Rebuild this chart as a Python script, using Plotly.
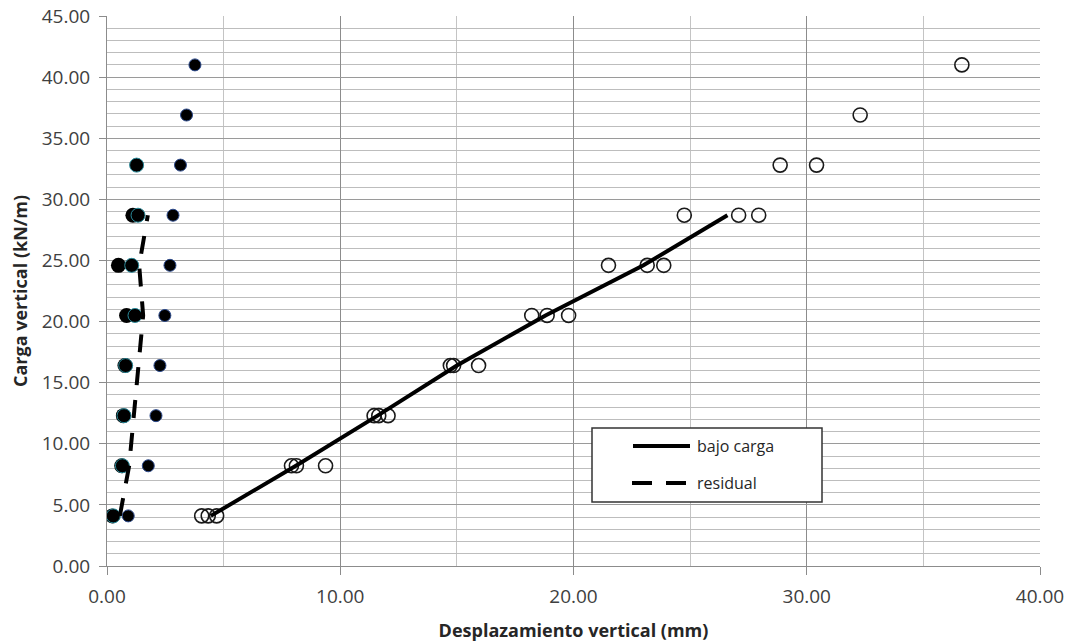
import plotly.graph_objects as go

# Load levels (kN/m)
cargas = [4.1, 8.2, 12.3, 16.4, 20.5, 24.6, 28.7, 32.8, 36.9, 41.0]

# Mean curves
linea_carga_x = [4.45, 8.1, 11.6, 15.0, 18.8, 23.0, 26.6]
linea_carga_y = cargas[:7]
linea_res_x = [0.55, 0.95, 1.15, 1.35, 1.55, 1.38, 1.75]
linea_res_y = cargas[:7]

# Displacement under load (open circles), three tests
abierto_a_x = [4.06, 7.91, 11.45, 14.72, 18.21, 23.16, 27.08, 30.42]
abierto_a_y = cargas[:8]
abierto_b_x = [4.34, 8.12, 11.65, 14.86, 18.87, 23.87, 27.94]
abierto_b_y = cargas[:7]
abierto_c_x = [4.70, 9.37, 12.05, 15.93, 19.79, 21.50, 24.75, 28.86, 32.29, 36.65]
abierto_c_y = cargas[:10]

# Residual displacement (filled dots), three tests
relleno_a_x = [0.22, 0.63, 0.70, 0.77, 0.84, 0.49, 1.11]
relleno_a_y = cargas[:7]
relleno_b_x = [0.27, 0.66, 0.73, 0.80, 1.20, 1.06, 1.33, 1.27]
relleno_b_y = cargas[:8]
relleno_c_x = [0.91, 1.77, 2.10, 2.27, 2.48, 2.70, 2.83, 3.15, 3.41, 3.77]
relleno_c_y = cargas[:10]

x_ticks = [0, 10, 20, 30, 40]
y_ticks = [0, 5, 10, 15, 20, 25, 30, 35, 40, 45]

FONT = "Open Sans"

fig = go.Figure()

for xs, ys in [(abierto_a_x, abierto_a_y), (abierto_b_x, abierto_b_y), (abierto_c_x, abierto_c_y)]:
    fig.add_trace(go.Scatter(x=xs, y=ys, mode="markers", showlegend=False,
                             marker=dict(symbol="circle-open", size=14, color="#1a1a1a",
                                         line=dict(width=1.6, color="#1a1a1a"))))

fig.add_trace(go.Scatter(x=relleno_a_x, y=relleno_a_y, mode="markers", showlegend=False,
                         marker=dict(symbol="circle", size=15, color="black",
                                     line=dict(width=0))))
fig.add_trace(go.Scatter(x=relleno_b_x, y=relleno_b_y, mode="markers", showlegend=False,
                         marker=dict(symbol="circle", size=14, color="black",
                                     line=dict(width=1, color="#2a8a9a"))))
fig.add_trace(go.Scatter(x=relleno_c_x, y=relleno_c_y, mode="markers", showlegend=False,
                         marker=dict(symbol="circle", size=12, color="black",
                                     line=dict(width=1, color="#2c4a8c"))))

fig.add_trace(go.Scatter(x=linea_carga_x, y=linea_carga_y, mode="lines", name="bajo carga",
                         showlegend=False, line=dict(color="black", width=4)))
fig.add_trace(go.Scatter(x=linea_res_x, y=linea_res_y, mode="lines", name="residual",
                         showlegend=False, line=dict(color="black", width=4, dash="18px,15px")))

# Legend box (drawn in paper coordinates)
L, R, T, B = 107, 1040, 16, 566
W, H = R - L, B - T
def px(v):
    return (v - L) / W
def py(v):
    return (B - v) / H

fig.add_shape(type="rect", xref="paper", yref="paper",
              x0=px(592), x1=px(822), y0=py(502), y1=py(428),
              line=dict(color="#333333", width=1.5), fillcolor="white", layer="above")
fig.add_shape(type="line", xref="paper", yref="paper",
              x0=px(633), x1=px(690), y0=py(446), y1=py(446),
              line=dict(color="black", width=4), layer="above")
fig.add_shape(type="line", xref="paper", yref="paper",
              x0=px(632), x1=px(687), y0=py(483), y1=py(483),
              line=dict(color="black", width=4, dash="20px,14px"), layer="above")
fig.add_annotation(xref="paper", yref="paper", x=px(695), y=py(446), text="bajo carga",
                   showarrow=False, xanchor="left", yanchor="middle",
                   font=dict(family=FONT, size=16, color="#262626"))
fig.add_annotation(xref="paper", yref="paper", x=px(695), y=py(483), text="residual",
                   showarrow=False, xanchor="left", yanchor="middle",
                   font=dict(family=FONT, size=16, color="#262626"))

fig.update_layout(
    width=1083, height=642,
    margin=dict(l=L, r=1083 - R, t=T, b=642 - B, autoexpand=False),
    paper_bgcolor="white", plot_bgcolor="white",
    font=dict(family=FONT, color="#404040"),
    xaxis=dict(
        range=[0, 40], tickvals=x_ticks, tickformat=".2f", automargin=False,
        showgrid=True, gridcolor="#8c8c8c", gridwidth=1,
        minor=dict(dtick=5, showgrid=True, gridcolor="#c4c4c4", gridwidth=1, ticks=""),
        ticks="outside", ticklen=8, tickcolor="#8c8c8c", tickwidth=1,
        showline=True, linecolor="#8c8c8c", linewidth=1,
        zeroline=False, tickfont=dict(size=19, color="#404040"),
        ticklabelstandoff=5,
        title=dict(text="<b>Desplazamiento vertical (mm)</b>", standoff=17,
                   font=dict(size=18, color="#262626")),
    ),
    yaxis=dict(
        range=[0, 45], tickvals=y_ticks, tickformat=".2f", automargin=False,
        showgrid=True, gridcolor="#9a9a9a", gridwidth=1,
        minor=dict(dtick=1, showgrid=True, gridcolor="#bdbdbd", gridwidth=1, ticks=""),
        ticks="outside", ticklen=7, tickcolor="#8c8c8c", tickwidth=1,
        showline=True, linecolor="#8c8c8c", linewidth=1,
        zeroline=False, tickfont=dict(size=19, color="#404040"),
        ticklabelstandoff=5,
        title=dict(text="<b>Carga vertical (kN/m)</b>", standoff=9,
                   font=dict(size=18, color="#262626")),
    ),
)

fig.write_html("out.html")
